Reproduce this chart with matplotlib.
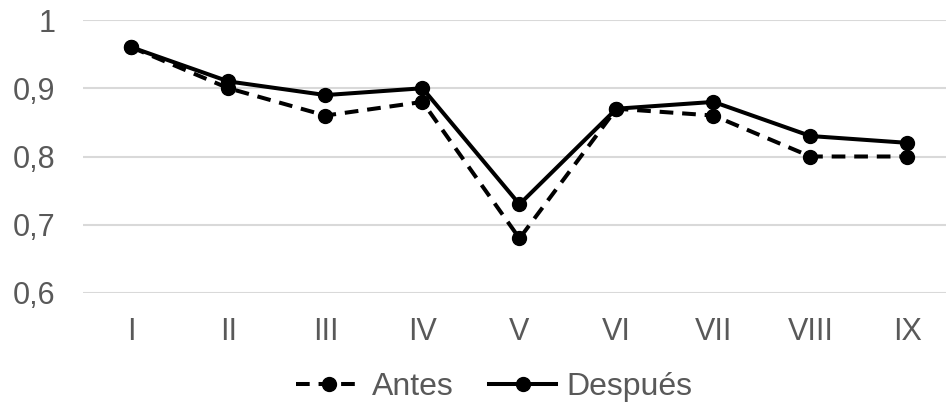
import matplotlib
matplotlib.use("Agg")
import matplotlib.pyplot as plt

# datos
categorias = ["I", "II", "III", "IV", "V", "VI", "VII", "VIII", "IX"]
antes = [0.96, 0.90, 0.86, 0.88, 0.68, 0.87, 0.86, 0.80, 0.80]
despues = [0.96, 0.91, 0.89, 0.90, 0.73, 0.87, 0.88, 0.83, 0.82]
yticks = [0.6, 0.7, 0.8, 0.9, 1.0]
ylabels = ["0,6", "0,7", "0,8", "0,9", "1"]

plt.rcParams["font.family"] = ["Liberation Sans", "DejaVu Sans"]
gris = "#595959"

fig = plt.figure(figsize=(9.46, 4.09), dpi=100)
ax = fig.add_axes([83 / 946, 116 / 409, 1 - 83 / 946, 273 / 409])

x = list(range(len(categorias)))
ax.plot(x, antes, color="black", lw=2.9, ls=(0, (3.4, 2.2)), marker="o", ms=10,
        label="Antes", zorder=3)
ax.plot(x, despues, color="black", lw=2.9, marker="o", ms=10,
        label="Después", zorder=4)

ax.set_ylim(0.6, 1.0)
ax.set_xlim(-0.5, 8.397)
ax.set_yticks(yticks)
ax.set_yticklabels(ylabels)
ax.set_xticks(x)
ax.set_xticklabels(categorias)
ax.yaxis.grid(True, color="#d9d9d9", lw=1.5)
ax.set_axisbelow(True)
for s in ax.spines.values():
    s.set_visible(False)
ax.tick_params(axis="both", length=0, labelsize=22, labelcolor=gris)
ax.tick_params(axis="x", pad=17)
ax.tick_params(axis="y", pad=20)

leg = ax.legend(loc="center", bbox_to_anchor=(0.476, -0.345), ncol=2,
                frameon=False, fontsize=23, handlelength=2.1, handletextpad=0.3,
                columnspacing=1.1, borderpad=0)
for t in leg.get_texts():
    t.set_color(gris)

fig.savefig("out.png", dpi=100)
